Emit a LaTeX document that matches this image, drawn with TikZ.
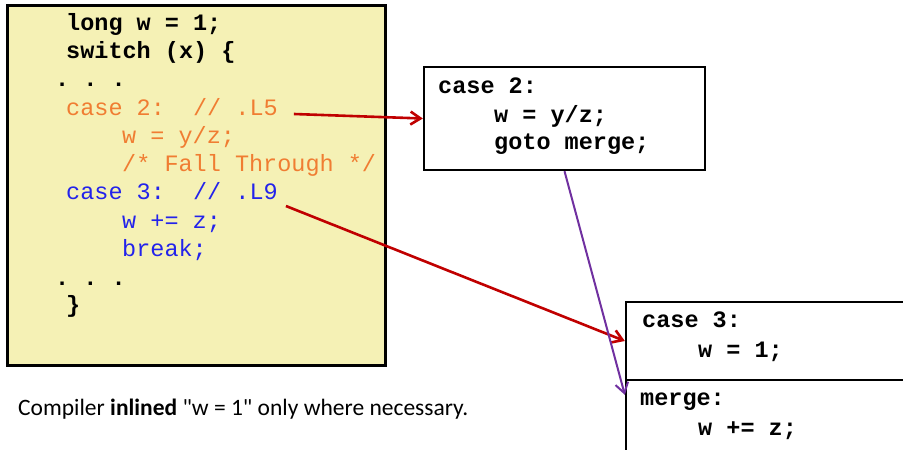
\documentclass[tikz,border=0pt]{standalone}
\usepackage{fontspec}
\setmainfont{Carlito}
\setmonofont{Liberation Mono}
\definecolor{mybg}{RGB}{245,241,181}
\definecolor{myorange}{RGB}{240,125,50}
\definecolor{myblue}{RGB}{35,35,235}
\definecolor{myred}{RGB}{192,0,0}
\definecolor{mypurple}{RGB}{112,48,160}
\usetikzlibrary{calc,arrows.meta,positioning}

\newcommand{\codesize}{\fontsize{23.5}{28}\selectfont\ttfamily}

\begin{document}
\begin{tikzpicture}[
  x=1pt, y=-1pt,
  codeline/.style={anchor=base west, inner sep=0pt, font=\codesize},
  boldline/.style={codeline, font=\codesize\bfseries},
  block/.style={draw, line width=2.3pt, inner sep=0pt},
  jump/.style={line width=2.6pt, -{Straight Barb[length=10pt,width=13pt]}}
]
\useasboundingbox (0,0) rectangle (903,450);

% source code
\node[block, line width=3pt, fill=mybg, minimum width=378pt, minimum height=360pt]
  (src) at (196,185) {};

\node[boldline] (s1) at (66,30)  {long w = 1;};
\node[boldline] (s2) at (66,58)  {switch (x) \{};
\node[boldline] (s3) at (55,86)  {. . .};
\node[codeline, myorange] (l5) at (66,115)  {case 2:\ \ // .L5};
\node[codeline, myorange] (s5) at (122,143) {w = y/z;};
\node[codeline, myorange] (s6) at (122,171) {/* Fall Through */};
\node[codeline, myblue] (l9) at (66,199)  {case 3:\ \ // .L9};
\node[codeline, myblue] (s8) at (122,228) {w += z;};
\node[codeline, myblue] (s9) at (122,256) {break;};
\node[boldline] (s10) at (55,285) {. . .};
\node[boldline] (s11) at (66,312) {\}};

% generated blocks
\node[block, minimum width=281pt, minimum height=103pt] (blk2) at (564.5,118.5) {};
\node[boldline] (b2a) at (438,93)  {case 2:};
\node[boldline] (b2b) at (494,122) {w = y/z;};
\node[boldline] (b2c) at (494,149) {goto merge;};

\node[block, minimum width=300pt, minimum height=78pt] (blk3) at (776,341) {};
\node[boldline] (b3a) at (642,327) {case 3:};
\node[boldline] (b3b) at (698,357) {w = 1;};

\node[block, minimum width=300pt, minimum height=90pt] (blk4) at (776,425) {};
\node[boldline] (b4a) at (640,405) {merge:};
\node[boldline] (b4b) at (698,435) {w += z;};

% jumps
\draw[jump, myred] ($(l5.base east)+(16,-1)$) -- (blk2.west);
\draw[jump, myred] ($(l9.base east)+(8,7)$) -- (blk3.west);
\draw[jump, mypurple, line width=2pt] (blk2.south) -- ($(blk4.north west)+(0,16)$);

\node[anchor=base west, inner sep=0pt, font=\fontsize{23.5}{28}\selectfont]
  (note) at (18,415) {Compiler \textbf{inlined} \textquotedbl w = 1\textquotedbl{} only where necessary.};
\end{tikzpicture}
\end{document}
